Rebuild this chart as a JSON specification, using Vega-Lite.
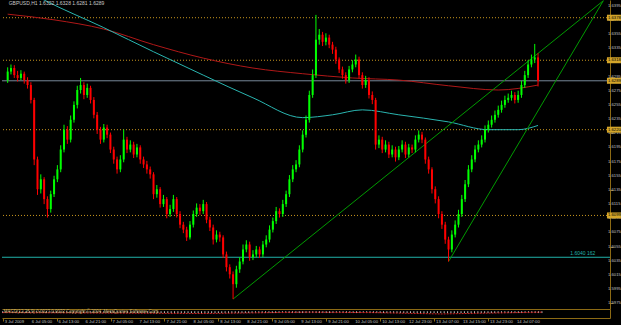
{
  "$schema": "https://vega.github.io/schema/vega-lite/v6.json",
  "background": "#000000",
  "padding": 0,
  "spacing": 0,
  "config": {
    "view": {"stroke": null},
    "axis": {"grid": false, "title": null, "domainColor": "#8c6a14", "tickColor": "#8c6a14", "labelColor": "#c0c0c0", "labelFont": "Liberation Sans", "labelFontSize": 4.2, "labelOverlap": false, "labelBound": false, "labelFlush": false}
  },
  "datasets": {
    "candles": [
      {"i":0,"o":1.6290,"h":1.6308,"l":1.6286,"c":1.6302},
      {"i":1,"o":1.6302,"h":1.6312,"l":1.6298,"c":1.6307},
      {"i":2,"o":1.6307,"h":1.6311,"l":1.6293,"c":1.6297},
      {"i":3,"o":1.6297,"h":1.6303,"l":1.6288,"c":1.6293},
      {"i":4,"o":1.6293,"h":1.6304,"l":1.6290,"c":1.6299},
      {"i":5,"o":1.6299,"h":1.6302,"l":1.6285,"c":1.6290},
      {"i":6,"o":1.6290,"h":1.6294,"l":1.6278,"c":1.6283},
      {"i":7,"o":1.6283,"h":1.6287,"l":1.6257,"c":1.6262},
      {"i":8,"o":1.6262,"h":1.6265,"l":1.6170,"c":1.6178},
      {"i":9,"o":1.6178,"h":1.6182,"l":1.6128,"c":1.6136},
      {"i":10,"o":1.6136,"h":1.6157,"l":1.6130,"c":1.6150},
      {"i":11,"o":1.6150,"h":1.6153,"l":1.6115,"c":1.6122},
      {"i":12,"o":1.6122,"h":1.6126,"l":1.6096,"c":1.6108},
      {"i":13,"o":1.6108,"h":1.6134,"l":1.6103,"c":1.6129},
      {"i":14,"o":1.6129,"h":1.6155,"l":1.6125,"c":1.6150},
      {"i":15,"o":1.6150,"h":1.6170,"l":1.6146,"c":1.6164},
      {"i":16,"o":1.6164,"h":1.6198,"l":1.6160,"c":1.6192},
      {"i":17,"o":1.6192,"h":1.6227,"l":1.6188,"c":1.6220},
      {"i":18,"o":1.6220,"h":1.6225,"l":1.6200,"c":1.6206},
      {"i":19,"o":1.6206,"h":1.6240,"l":1.6202,"c":1.6234},
      {"i":20,"o":1.6234,"h":1.6260,"l":1.6230,"c":1.6255},
      {"i":21,"o":1.6255,"h":1.6282,"l":1.6250,"c":1.6276},
      {"i":22,"o":1.6276,"h":1.6293,"l":1.6271,"c":1.6283},
      {"i":23,"o":1.6283,"h":1.6287,"l":1.6263,"c":1.6269},
      {"i":24,"o":1.6269,"h":1.6285,"l":1.6265,"c":1.6279},
      {"i":25,"o":1.6279,"h":1.6282,"l":1.6257,"c":1.6262},
      {"i":26,"o":1.6262,"h":1.6266,"l":1.6236,"c":1.6241},
      {"i":27,"o":1.6241,"h":1.6245,"l":1.6214,"c":1.6220},
      {"i":28,"o":1.6220,"h":1.6224,"l":1.6200,"c":1.6206},
      {"i":29,"o":1.6206,"h":1.6228,"l":1.6202,"c":1.6223},
      {"i":30,"o":1.6223,"h":1.6227,"l":1.6208,"c":1.6213},
      {"i":31,"o":1.6213,"h":1.6216,"l":1.6187,"c":1.6192},
      {"i":32,"o":1.6192,"h":1.6196,"l":1.6172,"c":1.6178},
      {"i":33,"o":1.6178,"h":1.6182,"l":1.6158,"c":1.6164},
      {"i":34,"o":1.6164,"h":1.6184,"l":1.6160,"c":1.6178},
      {"i":35,"o":1.6178,"h":1.6220,"l":1.6174,"c":1.6206},
      {"i":36,"o":1.6206,"h":1.6210,"l":1.6187,"c":1.6192},
      {"i":37,"o":1.6192,"h":1.6205,"l":1.6188,"c":1.6199},
      {"i":38,"o":1.6199,"h":1.6203,"l":1.6180,"c":1.6185},
      {"i":39,"o":1.6185,"h":1.6200,"l":1.6181,"c":1.6195},
      {"i":40,"o":1.6195,"h":1.6198,"l":1.6172,"c":1.6178},
      {"i":41,"o":1.6178,"h":1.6182,"l":1.6166,"c":1.6171},
      {"i":42,"o":1.6171,"h":1.6176,"l":1.6158,"c":1.6164},
      {"i":43,"o":1.6164,"h":1.6168,"l":1.6151,"c":1.6157},
      {"i":44,"o":1.6157,"h":1.6160,"l":1.6122,"c":1.6129},
      {"i":45,"o":1.6129,"h":1.6142,"l":1.6124,"c":1.6136},
      {"i":46,"o":1.6136,"h":1.6139,"l":1.6110,"c":1.6115},
      {"i":47,"o":1.6115,"h":1.6128,"l":1.6111,"c":1.6122},
      {"i":48,"o":1.6122,"h":1.6125,"l":1.6095,"c":1.6101},
      {"i":49,"o":1.6101,"h":1.6114,"l":1.6097,"c":1.6108},
      {"i":50,"o":1.6108,"h":1.6128,"l":1.6104,"c":1.6122},
      {"i":51,"o":1.6122,"h":1.6125,"l":1.6096,"c":1.6101},
      {"i":52,"o":1.6101,"h":1.6105,"l":1.6081,"c":1.6086},
      {"i":53,"o":1.6086,"h":1.6090,"l":1.6074,"c":1.6079},
      {"i":54,"o":1.6079,"h":1.6083,"l":1.6063,"c":1.6068},
      {"i":55,"o":1.6068,"h":1.6091,"l":1.6065,"c":1.6086},
      {"i":56,"o":1.6086,"h":1.6106,"l":1.6082,"c":1.6101},
      {"i":57,"o":1.6101,"h":1.6116,"l":1.6097,"c":1.6110},
      {"i":58,"o":1.6110,"h":1.6115,"l":1.6100,"c":1.6105},
      {"i":59,"o":1.6105,"h":1.6121,"l":1.6101,"c":1.6115},
      {"i":60,"o":1.6115,"h":1.6118,"l":1.6088,"c":1.6093},
      {"i":61,"o":1.6093,"h":1.6097,"l":1.6077,"c":1.6082},
      {"i":62,"o":1.6082,"h":1.6086,"l":1.6058,"c":1.6065},
      {"i":63,"o":1.6065,"h":1.6078,"l":1.6061,"c":1.6072},
      {"i":64,"o":1.6072,"h":1.6076,"l":1.6062,"c":1.6068},
      {"i":65,"o":1.6068,"h":1.6071,"l":1.6039,"c":1.6044},
      {"i":66,"o":1.6044,"h":1.6048,"l":1.6020,"c":1.6026},
      {"i":67,"o":1.6026,"h":1.6030,"l":1.6010,"c":1.6016},
      {"i":68,"o":1.6016,"h":1.6020,"l":1.5981,"c":1.6002},
      {"i":69,"o":1.6002,"h":1.6028,"l":1.5997,"c":1.6023},
      {"i":70,"o":1.6023,"h":1.6040,"l":1.6018,"c":1.6034},
      {"i":71,"o":1.6034,"h":1.6058,"l":1.6030,"c":1.6051},
      {"i":72,"o":1.6051,"h":1.6064,"l":1.6047,"c":1.6058},
      {"i":73,"o":1.6058,"h":1.6062,"l":1.6035,"c":1.6040},
      {"i":74,"o":1.6040,"h":1.6050,"l":1.6036,"c":1.6044},
      {"i":75,"o":1.6044,"h":1.6056,"l":1.6040,"c":1.6051},
      {"i":76,"o":1.6051,"h":1.6055,"l":1.6039,"c":1.6044},
      {"i":77,"o":1.6044,"h":1.6063,"l":1.6040,"c":1.6058},
      {"i":78,"o":1.6058,"h":1.6071,"l":1.6054,"c":1.6065},
      {"i":79,"o":1.6065,"h":1.6085,"l":1.6061,"c":1.6079},
      {"i":80,"o":1.6079,"h":1.6096,"l":1.6075,"c":1.6091},
      {"i":81,"o":1.6091,"h":1.6111,"l":1.6087,"c":1.6105},
      {"i":82,"o":1.6105,"h":1.6109,"l":1.6096,"c":1.6101},
      {"i":83,"o":1.6101,"h":1.6121,"l":1.6097,"c":1.6115},
      {"i":84,"o":1.6115,"h":1.6134,"l":1.6111,"c":1.6129},
      {"i":85,"o":1.6129,"h":1.6156,"l":1.6125,"c":1.6150},
      {"i":86,"o":1.6150,"h":1.6170,"l":1.6146,"c":1.6164},
      {"i":87,"o":1.6164,"h":1.6177,"l":1.6160,"c":1.6171},
      {"i":88,"o":1.6171,"h":1.6198,"l":1.6167,"c":1.6192},
      {"i":89,"o":1.6192,"h":1.6219,"l":1.6188,"c":1.6213},
      {"i":90,"o":1.6213,"h":1.6240,"l":1.6209,"c":1.6234},
      {"i":91,"o":1.6234,"h":1.6275,"l":1.6230,"c":1.6269},
      {"i":92,"o":1.6269,"h":1.6305,"l":1.6265,"c":1.6297},
      {"i":93,"o":1.6297,"h":1.6382,"l":1.6293,"c":1.6347},
      {"i":94,"o":1.6347,"h":1.6362,"l":1.6340,"c":1.6354},
      {"i":95,"o":1.6354,"h":1.6358,"l":1.6338,"c":1.6344},
      {"i":96,"o":1.6344,"h":1.6356,"l":1.6339,"c":1.6350},
      {"i":97,"o":1.6350,"h":1.6354,"l":1.6335,"c":1.6340},
      {"i":98,"o":1.6340,"h":1.6344,"l":1.6327,"c":1.6333},
      {"i":99,"o":1.6333,"h":1.6337,"l":1.6313,"c":1.6319},
      {"i":100,"o":1.6319,"h":1.6322,"l":1.6300,"c":1.6305},
      {"i":101,"o":1.6305,"h":1.6309,"l":1.6292,"c":1.6297},
      {"i":102,"o":1.6297,"h":1.6301,"l":1.6285,"c":1.6290},
      {"i":103,"o":1.6290,"h":1.6310,"l":1.6286,"c":1.6305},
      {"i":104,"o":1.6305,"h":1.6318,"l":1.6301,"c":1.6312},
      {"i":105,"o":1.6312,"h":1.6326,"l":1.6308,"c":1.6319},
      {"i":106,"o":1.6319,"h":1.6323,"l":1.6292,"c":1.6297},
      {"i":107,"o":1.6297,"h":1.6301,"l":1.6278,"c":1.6283},
      {"i":108,"o":1.6283,"h":1.6296,"l":1.6279,"c":1.6290},
      {"i":109,"o":1.6290,"h":1.6294,"l":1.6264,"c":1.6269},
      {"i":110,"o":1.6269,"h":1.6274,"l":1.6256,"c":1.6262},
      {"i":111,"o":1.6262,"h":1.6265,"l":1.6192,"c":1.6199},
      {"i":112,"o":1.6199,"h":1.6212,"l":1.6194,"c":1.6206},
      {"i":113,"o":1.6206,"h":1.6210,"l":1.6187,"c":1.6192},
      {"i":114,"o":1.6192,"h":1.6205,"l":1.6188,"c":1.6199},
      {"i":115,"o":1.6199,"h":1.6203,"l":1.6180,"c":1.6185},
      {"i":116,"o":1.6185,"h":1.6198,"l":1.6181,"c":1.6192},
      {"i":117,"o":1.6192,"h":1.6196,"l":1.6175,"c":1.6181},
      {"i":118,"o":1.6181,"h":1.6197,"l":1.6177,"c":1.6192},
      {"i":119,"o":1.6192,"h":1.6205,"l":1.6188,"c":1.6199},
      {"i":120,"o":1.6199,"h":1.6203,"l":1.6180,"c":1.6185},
      {"i":121,"o":1.6185,"h":1.6200,"l":1.6181,"c":1.6195},
      {"i":122,"o":1.6195,"h":1.6199,"l":1.6187,"c":1.6192},
      {"i":123,"o":1.6192,"h":1.6212,"l":1.6188,"c":1.6206},
      {"i":124,"o":1.6206,"h":1.6219,"l":1.6202,"c":1.6213},
      {"i":125,"o":1.6213,"h":1.6217,"l":1.6201,"c":1.6206},
      {"i":126,"o":1.6206,"h":1.6209,"l":1.6172,"c":1.6178},
      {"i":127,"o":1.6178,"h":1.6182,"l":1.6158,"c":1.6164},
      {"i":128,"o":1.6164,"h":1.6167,"l":1.6130,"c":1.6136},
      {"i":129,"o":1.6136,"h":1.6140,"l":1.6116,"c":1.6122},
      {"i":130,"o":1.6122,"h":1.6126,"l":1.6095,"c":1.6101},
      {"i":131,"o":1.6101,"h":1.6105,"l":1.6080,"c":1.6086},
      {"i":132,"o":1.6086,"h":1.6090,"l":1.6059,"c":1.6065},
      {"i":133,"o":1.6065,"h":1.6069,"l":1.6034,"c":1.6051},
      {"i":134,"o":1.6051,"h":1.6078,"l":1.6047,"c":1.6072},
      {"i":135,"o":1.6072,"h":1.6092,"l":1.6068,"c":1.6086},
      {"i":136,"o":1.6086,"h":1.6107,"l":1.6082,"c":1.6101},
      {"i":137,"o":1.6101,"h":1.6128,"l":1.6097,"c":1.6122},
      {"i":138,"o":1.6122,"h":1.6149,"l":1.6118,"c":1.6143},
      {"i":139,"o":1.6143,"h":1.6170,"l":1.6139,"c":1.6164},
      {"i":140,"o":1.6164,"h":1.6184,"l":1.6160,"c":1.6178},
      {"i":141,"o":1.6178,"h":1.6198,"l":1.6174,"c":1.6192},
      {"i":142,"o":1.6192,"h":1.6205,"l":1.6188,"c":1.6199},
      {"i":143,"o":1.6199,"h":1.6212,"l":1.6195,"c":1.6206},
      {"i":144,"o":1.6206,"h":1.6226,"l":1.6202,"c":1.6220},
      {"i":145,"o":1.6220,"h":1.6233,"l":1.6216,"c":1.6227},
      {"i":146,"o":1.6227,"h":1.6240,"l":1.6223,"c":1.6234},
      {"i":147,"o":1.6234,"h":1.6247,"l":1.6230,"c":1.6241},
      {"i":148,"o":1.6241,"h":1.6254,"l":1.6237,"c":1.6248},
      {"i":149,"o":1.6248,"h":1.6261,"l":1.6244,"c":1.6255},
      {"i":150,"o":1.6255,"h":1.6268,"l":1.6251,"c":1.6262},
      {"i":151,"o":1.6262,"h":1.6271,"l":1.6258,"c":1.6265},
      {"i":152,"o":1.6265,"h":1.6275,"l":1.6261,"c":1.6269},
      {"i":153,"o":1.6269,"h":1.6273,"l":1.6257,"c":1.6262},
      {"i":154,"o":1.6262,"h":1.6275,"l":1.6258,"c":1.6269},
      {"i":155,"o":1.6269,"h":1.6289,"l":1.6265,"c":1.6283},
      {"i":156,"o":1.6283,"h":1.6303,"l":1.6279,"c":1.6297},
      {"i":157,"o":1.6297,"h":1.6318,"l":1.6293,"c":1.6312},
      {"i":158,"o":1.6312,"h":1.6326,"l":1.6308,"c":1.6319},
      {"i":159,"o":1.6319,"h":1.6341,"l":1.6314,"c":1.6322},
      {"i":160,"o":1.6322,"h":1.6328,"l":1.6281,"c":1.6289}
    ],
    "ma": [
      {"i":0,"s":"slow","v":1.6383},{"i":14,"s":"slow","v":1.6375},{"i":29,"s":"slow","v":1.6362},{"i":44,"s":"slow","v":1.6340},{"i":59,"s":"slow","v":1.6321},{"i":74,"s":"slow","v":1.6307},{"i":89,"s":"slow","v":1.6299},{"i":104,"s":"slow","v":1.6293},{"i":118,"s":"slow","v":1.6290},{"i":133,"s":"slow","v":1.6282},{"i":148,"s":"slow","v":1.6276},{"i":160,"s":"slow","v":1.6283},
      {"i":5,"s":"fast","v":1.6418},{"i":11,"s":"fast","v":1.6403},{"i":29,"s":"fast","v":1.6364},{"i":44,"s":"fast","v":1.6330},{"i":59,"s":"fast","v":1.6297},{"i":74,"s":"fast","v":1.6265},{"i":89,"s":"fast","v":1.6237},{"i":98,"s":"fast","v":1.6241},{"i":107,"s":"fast","v":1.6248},{"i":118,"s":"fast","v":1.6241},{"i":133,"s":"fast","v":1.6231},{"i":145,"s":"fast","v":1.6220},{"i":154,"s":"fast","v":1.6220},{"i":160,"s":"fast","v":1.6226}
    ],
    "trend": [
      {"i":68,"line":"A","v":1.5981},{"i":179.7,"line":"A","v":1.6402},
      {"i":133,"line":"B","v":1.6034},{"i":179.7,"line":"B","v":1.6402}
    ],
    "levels": [
      {"v":1.6378,"kind":"dot"},
      {"v":1.6318,"kind":"dot"},
      {"v":1.6289,"kind":"bid"},
      {"v":1.6220,"kind":"dot"},
      {"v":1.6099,"kind":"dot"},
      {"v":1.6040,"kind":"cyan"}
    ],
    "yticks": [
      {"v":1.5975},{"v":1.5995},{"v":1.6015},{"v":1.6035},{"v":1.6055},{"v":1.6075},{"v":1.6095},{"v":1.6115},{"v":1.6135},{"v":1.6155},{"v":1.6175},{"v":1.6195},{"v":1.6215},{"v":1.6235},{"v":1.6255},{"v":1.6275},{"v":1.6295},{"v":1.6315},{"v":1.6335},{"v":1.6355},{"v":1.6375},{"v":1.6395}
    ],
    "signal": [
      {"i":0,"v":0.2},{"i":30,"v":0.1},{"i":60,"v":0.0},{"i":90,"v":0.3},{"i":110,"v":0.2},{"i":130,"v":-0.1},{"i":160,"v":0.3}
    ],
    "timelabels": [
      {"i":0,"t":"3 Jul 2009"},{"i":8,"t":"6 Jul 05:00"},{"i":16,"t":"6 Jul 13:00"},{"i":24,"t":"6 Jul 21:00"},{"i":32,"t":"7 Jul 05:00"},{"i":40,"t":"7 Jul 13:00"},{"i":48,"t":"7 Jul 21:00"},{"i":56,"t":"8 Jul 05:00"},{"i":64,"t":"8 Jul 13:00"},{"i":72,"t":"8 Jul 21:00"},{"i":80,"t":"9 Jul 05:00"},{"i":88,"t":"9 Jul 13:00"},{"i":96,"t":"9 Jul 21:00"},{"i":104,"t":"10 Jul 05:00"},{"i":112,"t":"10 Jul 13:00"},{"i":120,"t":"12 Jul 23:00"},{"i":128,"t":"13 Jul 07:00"},{"i":136,"t":"13 Jul 15:00"},{"i":144,"t":"13 Jul 23:00"},{"i":152,"t":"14 Jul 07:00"}
    ]
  },
  "vconcat": [
    {
      "width": 608,
      "height": 309,
      "layer": [
        {
          "data": {"name": "levels"},
          "transform": [{"filter": "datum.kind == 'dot'"}],
          "mark": {"type": "rule", "color": "#c8961e", "strokeDash": [1, 2], "strokeWidth": 1},
          "encoding": {"y": {"field": "v", "type": "quantitative"}}
        },
        {
          "data": {"name": "levels"},
          "transform": [{"filter": "datum.kind == 'bid'"}],
          "mark": {"type": "rule", "color": "#778899", "strokeWidth": 1},
          "encoding": {"y": {"field": "v", "type": "quantitative"}}
        },
        {
          "data": {"name": "levels"},
          "transform": [{"filter": "datum.kind == 'cyan'"}],
          "mark": {"type": "rule", "color": "#20b2aa", "strokeWidth": 1},
          "encoding": {"y": {"field": "v", "type": "quantitative"}}
        },
        {
          "data": {"name": "ma"},
          "mark": {"type": "line", "clip": true, "interpolate": "monotone", "strokeWidth": 1},
          "encoding": {
            "x": {"field": "i", "type": "quantitative"},
            "y": {"field": "v", "type": "quantitative"},
            "color": {"field": "s", "type": "nominal", "scale": {"domain": ["slow", "fast"], "range": ["#b01818", "#2ab5b0"]}, "legend": null}
          }
        },
        {
          "data": {"name": "trend"},
          "mark": {"type": "line", "clip": true, "color": "#009a00", "strokeWidth": 1},
          "encoding": {
            "x": {"field": "i", "type": "quantitative"},
            "y": {"field": "v", "type": "quantitative"},
            "detail": {"field": "line"}
          }
        },
        {
          "data": {"name": "candles"},
          "mark": {"type": "rule", "strokeWidth": 1},
          "encoding": {
            "x": {"field": "i", "type": "quantitative", "scale": {"domain": [-0.2, 180.2], "nice": false, "zero": false}, "axis": {"labels": false, "ticks": false, "domain": true}},
            "y": {"field": "l", "type": "quantitative", "scale": {"domain": [1.5967, 1.6403], "nice": false, "zero": false}, "axis": {"orient": "right", "values": [1.5975,1.5995,1.6015,1.6035,1.6055,1.6075,1.6095,1.6115,1.6135,1.6155,1.6175,1.6195,1.6215,1.6235,1.6255,1.6275,1.6295,1.6315,1.6335,1.6355,1.6375,1.6395], "labels": false, "tickSize": 3}},
            "y2": {"field": "h"},
            "color": {"condition": {"test": "datum.c >= datum.o", "value": "#00ff00"}, "value": "#ff0000"}
          }
        },
        {
          "data": {"name": "candles"},
          "mark": {"type": "bar", "size": 2},
          "encoding": {
            "x": {"field": "i", "type": "quantitative"},
            "y": {"field": "o", "type": "quantitative"},
            "y2": {"field": "c"},
            "color": {"condition": {"test": "datum.c >= datum.o", "value": "#00ff00"}, "value": "#ff0000"}
          }
        },
        {
          "data": {"name": "yticks"},
          "mark": {"type": "text", "align": "left", "baseline": "middle", "clip": false, "font": "Liberation Sans", "fontSize": 4.2, "color": "#c0c0c0"},
          "encoding": {"x": {"datum": 181.1}, "y": {"field": "v", "type": "quantitative"}, "text": {"field": "v", "type": "quantitative", "format": ".4f"}}
        },
        {
          "data": {"values": [{"t": "GBPUSD,H1  1.6322 1.6328 1.6281 1.6289"}]},
          "mark": {"type": "text", "align": "left", "baseline": "top", "font": "Liberation Sans", "fontSize": 5, "color": "#c8c8c8"},
          "encoding": {"x": {"datum": 0.3}, "y": {"datum": 1.6401}, "text": {"field": "t"}}
        },
        {
          "data": {"name": "levels"},
          "transform": [{"filter": "datum.kind == 'cyan'"}],
          "mark": {"type": "text", "align": "right", "baseline": "bottom", "dy": -1, "font": "Liberation Sans", "fontSize": 5, "color": "#20b2aa"},
          "encoding": {"x": {"datum": 177.3}, "y": {"field": "v", "type": "quantitative"}, "text": {"value": "1.6040  162"}}
        },
        {
          "data": {"name": "levels"},
          "transform": [{"filter": "datum.kind != 'cyan'"}],
          "mark": {"type": "tick", "orient": "horizontal", "size": 14, "thickness": 6, "clip": false, "color": "#d4a62a", "opacity": 1},
          "encoding": {"x": {"datum": 182.9}, "y": {"field": "v", "type": "quantitative"}}
        },
        {
          "data": {"name": "levels"},
          "transform": [{"filter": "datum.kind != 'cyan'"}],
          "mark": {"type": "text", "align": "left", "baseline": "middle", "clip": false, "font": "Liberation Sans", "fontSize": 4.2, "color": "#000000"},
          "encoding": {"x": {"datum": 181.1}, "y": {"field": "v", "type": "quantitative"}, "text": {"field": "v", "type": "quantitative", "format": ".4f"}}
        }
      ]
    },
    {
      "width": 608,
      "height": 9,
      "layer": [
        {
          "data": {"name": "candles"},
          "mark": {"type": "rule", "color": "#c0c0c0", "strokeWidth": 1},
          "encoding": {
            "x": {"field": "i", "type": "quantitative", "scale": {"domain": [-0.2, 180.2], "nice": false, "zero": false}, "axis": {"values": [0,8,16,24,32,40,48,56,64,72,80,88,96,104,112,120,128,136,144,152], "labels": false, "tickSize": 3}},
            "y": {"datum": 0.1, "scale": {"domain": [-1, 1], "nice": false, "zero": false}, "axis": {"orient": "right", "labels": false, "ticks": false}},
            "y2": {"datum": 0.5}
          }
        },
        {
          "data": {"name": "signal"},
          "mark": {"type": "line", "color": "#d02020", "strokeWidth": 1, "strokeDash": [2, 1]},
          "encoding": {"x": {"field": "i", "type": "quantitative"}, "y": {"field": "v", "type": "quantitative"}}
        },
        {
          "data": {"values": [{"t": "MACD(12,26,9) 0.0027 0.0032  Copyright © 2004, MetaQuotes Software Corp."}]},
          "mark": {"type": "text", "align": "left", "baseline": "middle", "font": "Liberation Sans", "fontSize": 4.5, "color": "#c8b070"},
          "encoding": {"x": {"datum": 0.3}, "y": {"datum": 0.3}, "text": {"field": "t"}}
        },
        {
          "data": {"name": "timelabels"},
          "mark": {"type": "text", "align": "left", "baseline": "top", "dx": 2, "clip": false, "font": "Liberation Sans", "fontSize": 4.2, "color": "#c0c0c0"},
          "encoding": {"x": {"field": "i", "type": "quantitative"}, "y": {"datum": -1.45}, "text": {"field": "t"}}
        }
      ]
    }
  ]
}
